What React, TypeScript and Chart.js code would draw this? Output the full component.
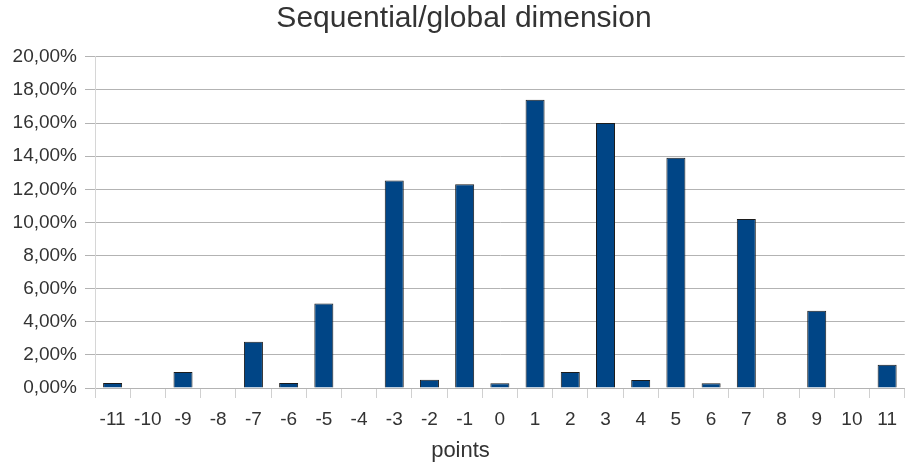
import React, { useEffect, useRef } from "react";
import { Chart, registerables } from "chart.js";

Chart.register(...registerables);

const categories: string[] = ["-11", "-10", "-9", "-8", "-7", "-6", "-5", "-4", "-3", "-2", "-1", "0", "1", "2", "3", "4", "5", "6", "7", "8", "9", "10", "11"];
const percentages: number[] = [0.3, 0, 0.97, 0, 2.8, 0.3, 5.1, 0, 12.53, 0.5, 12.3, 0.28, 17.4, 0.97, 16.0, 0.48, 13.9, 0.28, 10.2, 0, 4.66, 0, 1.4];
const chartTitle = "Sequential/global dimension";
const xAxisTitle = "points";
const yMin = 0;
const yMax = 20;
const yStep = 2;

const FONT = "'Liberation Sans', Arial, sans-serif";

const textPlugin = {
  id: "customTexts",
  afterDraw(chart: any) {
    const ctx = chart.ctx;
    ctx.save();
    ctx.fillStyle = "#333333";
    ctx.textAlign = "center";
    ctx.textBaseline = "alphabetic";
    ctx.font = `30px ${FONT}`;
    ctx.fillText(chartTitle, 464, 27);
    ctx.font = `22px ${FONT}`;
    ctx.fillText(xAxisTitle, 460.5, 456.5);
    ctx.restore();
  },
};

export default function App() {
  const ref = useRef<HTMLCanvasElement | null>(null);
  useEffect(() => {
    if (!ref.current) return;
    const chart = new Chart(ref.current, {
      type: "bar",
      data: {
        labels: categories,
        datasets: [
          {
            data: percentages,
            backgroundColor: "#004586",
            borderColor: "#1c1c1c",
            borderWidth: 1,
            barPercentage: 0.54,
            categoryPercentage: 1,
          },
        ],
      },
      options: {
        animation: false,
        responsive: false,
        maintainAspectRatio: false,
        layout: { padding: { left: 0, right: 0, top: 0, bottom: 0 } },
        plugins: {
          legend: { display: false },
          tooltip: { enabled: false },
          title: {
            display: true,
            text: chartTitle,
            color: "rgba(0,0,0,0)",
            font: { family: FONT, size: 29, weight: "normal" },
            padding: { top: 0, bottom: 22 },
          },
        },
        scales: {
          x: {
            offset: true,
            grid: {
              offset: true,
              drawOnChartArea: false,
              drawTicks: true,
              tickLength: 10,
              color: "#d0d0d0",
            },
            border: { display: false },
            ticks: {
              color: "#333333",
              font: { family: FONT, size: 19 },
              padding: 10,
              maxRotation: 0,
              autoSkip: false,
            },
            title: { display: false },
            afterFit: (scale: any) => {
              scale.height = 76;
            },
          },
          y: {
            min: yMin,
            max: yMax,
            grid: {
              color: "#b3b3b3",
              drawTicks: true,
              tickLength: 10,
            },
            border: { display: true, color: "#d6d6d6", width: 1 },
            ticks: {
              stepSize: yStep,
              color: "#333333",
              font: { family: FONT, size: 19 },
              padding: 8,
              callback: (v: any) => Number(v).toFixed(2).replace(".", ",") + "%",
            },
            afterFit: (scale: any) => {
              scale.width = 95;
            },
          },
        },
      },
      plugins: [textPlugin],
    });
    return () => chart.destroy();
  }, []);
  return (
    <div style={{ position: "fixed", left: 0, top: 0, width: 907, height: 464, background: "#ffffff" }}>
      <canvas ref={ref} width={907} height={464} style={{ width: 907, height: 464 }} />
    </div>
  );
}
